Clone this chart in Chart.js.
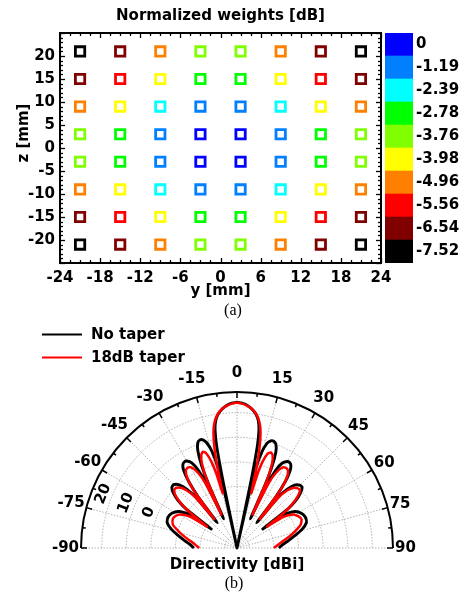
<!DOCTYPE html>
<html><head><meta charset="utf-8">
<script src="https://cdn.jsdelivr.net/npm/chart.js@4/dist/chart.umd.min.js"></script>
<style>
html,body{margin:0;padding:0;background:#fff;}
body{width:461px;height:597px;position:relative;overflow:hidden;}
canvas{position:absolute;}
#c1{left:0;top:0;}
#c2{left:383px;top:0;}
#c3{left:0;top:300px;}
</style></head><body>
<canvas id="c1" width="461" height="330"></canvas>
<canvas id="c3" width="461" height="297"></canvas>
<canvas id="c2" width="78" height="330"></canvas>
<script>
// ---------- (a) element weights ----------
const elemY = [-21,-15,-9,-3,3,9,15,21];
const elemZ = [21,15,9,3,-3,-9,-15,-21];
const weightRows = [
  [-7.52,-6.54,-4.96,-3.76,-3.76,-4.96,-6.54,-7.52],
  [-6.54,-5.56,-3.98,-2.78,-2.78,-3.98,-5.56,-6.54],
  [-4.96,-3.98,-2.39,-1.19,-1.19,-2.39,-3.98,-4.96],
  [-3.76,-2.78,-1.19,0,0,-1.19,-2.78,-3.76],
  [-3.76,-2.78,-1.19,0,0,-1.19,-2.78,-3.76],
  [-4.96,-3.98,-2.39,-1.19,-1.19,-2.39,-3.98,-4.96],
  [-6.54,-5.56,-3.98,-2.78,-2.78,-3.98,-5.56,-6.54],
  [-7.52,-6.54,-4.96,-3.76,-3.76,-4.96,-6.54,-7.52]
];
const levels = [0,-1.19,-2.39,-2.78,-3.76,-3.98,-4.96,-5.56,-6.54,-7.52];
const levelColors = ['#0000ff','#0080ff','#00ffff','#00ff00','#80ff00','#ffff00','#ff8000','#ff0000','#800000','#000000'];
const yTicksMm = [-24,-18,-12,-6,0,6,12,18,24];
const zTicksMm = [-20,-15,-10,-5,0,5,10,15,20];

// ---------- (b) directivity patterns ----------
const seriesLabels = ['No taper','18dB taper'];
const noTaperAngles = [-90,-86,-82,-78,-74,-70,-66,-62,-58,-55,-53.5,-52.5,-51,-49,-47,-45,-42.5,-40.5,-39,-38,-37.2,-36,-34.5,-33,-31.5,-30,-28,-26.5,-25.3,-24.6,-24,-23.2,-22,-20.5,-19,-17.5,-16,-14.5,-13.3,-12.6,-12.3,-11.8,-11.3,-10.5,-9.5,-8,-6,-4,-2,0,2,4,6,8,9.5,10.5,11.3,11.8,12.3,12.6,13.3,14.5,16,17.5,19,20.5,22,23.2,24,24.6,25.3,26.5,28,30,31.5,33,34.5,36,37.2,38,39,40.5,42.5,45,47,49,51,52.5,53.5,55,58,62,66,70,74,78,82,86,90];
const noTaperDb = [-17.5,-16,-13.5,-10.5,-7.2,-4.8,-4.3,-5,-7,-11,-22,-9,-4,-0.6,1.2,1.4,-0.2,-3.5,-9,-22,-9,-1.5,3.3,5.4,6.0,5.8,4.2,0.5,-7,-22,-7,1.5,7.4,10.6,11.4,11.1,9.4,5.5,-1.5,-11,-35,-8,7,14,17.5,20,21.9,23.2,23.9,24.2,23.9,23.2,21.9,20,17.5,14,7,-8,-35,-11,-1.5,5.3,9.2,10.7,10.9,10.1,7.2,1.3,-7,-22,-7,0.4,4,5.6,5.8,5.2,3.1,-1.5,-9,-22,-9,-3.7,-0.3,1.1,1.2,-0.8,-4.2,-9,-22,-11,-7,-5.2,-4.5,-5,-7.5,-11,-14,-16.5,-18];
const taperAngles = [-90,-86,-82,-78,-74,-70,-66,-62.5,-59,-56,-54.5,-53,-51.5,-49.5,-47.5,-45.5,-43,-41,-39.5,-38,-37,-35.5,-33.5,-31.5,-29.5,-27.5,-26,-24.8,-23.8,-22.5,-21,-19.5,-18,-16.5,-15.5,-14.6,-13.8,-12.8,-11.5,-10,-8,-6,-4,-2,0,2,4,6,8,10,11.5,12.8,13.8,14.6,15.5,16.5,18,19.5,21,22.5,23.8,24.8,26,27.5,29.5,31.5,33.5,35.5,37,38,39.5,41,43,45.5,47.5,49.5,51.5,53,54.5,56,59,62.5,66,70,74,78,82,86,90];
const taperDb = [-19.6,-18.2,-16.2,-13.3,-10.3,-7.3,-6.4,-6.8,-8.5,-12.5,-20,-11,-6,-2.2,-0.4,-0.2,-1.5,-4,-8,-20,-6.5,-0.3,2.7,3.3,2.7,-0.3,-5.5,-20,-4.5,2.3,5.5,6.5,5.5,1.5,-4,-12,-3,6,13,17.2,20.2,21.9,23.0,23.7,24.0,23.7,23.0,21.9,20.2,17.2,13,6,-3,-12,-4,1.5,5.3,6.2,5.4,2.3,-4.5,-20,-5.5,-0.3,2.6,3.2,2.6,-0.3,-6.5,-20,-8,-4.2,-1.7,-0.4,-0.3,-2.4,-6.2,-11,-20,-12.5,-8.5,-7,-6.3,-7.5,-10.5,-13.5,-16.5,-18.5,-20];
const polarMin = -35, polarMax = 28.4;
const ringValues = [-30,-20,-10,0,10,20];
const ringLabelValues = [0,10,20];
const angleTicks = [-90,-75,-60,-45,-30,-15,0,15,30,45,60,75,90];

Chart.defaults.font.family = "'DejaVu Sans', sans-serif";
Chart.defaults.font.weight = 'bold';
Chart.defaults.font.size = 15;
Chart.defaults.color = '#000';

const BOLD = "bold 15px 'DejaVu Sans', sans-serif";
const SERIF = "16px 'Liberation Serif', 'Times New Roman', serif";

// ---------- chart (a) ----------
const pts = [], ptColors = [];
weightRows.forEach((row, i) => row.forEach((w, j) => {
  pts.push({x: elemY[j], y: elemZ[i]});
  ptColors.push(levelColors[levels.indexOf(w)]);
}));

const frameA = {
  id: 'frameA',
  afterDraw(chart) {
    const {ctx, chartArea: ca, scales: {x, y}} = chart;
    ctx.save();
    ctx.strokeStyle = '#000';
    ctx.lineWidth = 1.3;
    for (let v = x.min; v <= x.max + 1e-9; v += 1.5) {
      const p = Math.round(x.getPixelForValue(v)) + 0.5;
      const len = (Math.abs(v % 6) < 1e-9) ? 5 : 3;
      ctx.beginPath(); ctx.moveTo(p, ca.bottom); ctx.lineTo(p, ca.bottom - len); ctx.stroke();
      ctx.beginPath(); ctx.moveTo(p, ca.top); ctx.lineTo(p, ca.top + len); ctx.stroke();
    }
    for (let v = y.min; v <= y.max + 1e-9; v += 1) {
      const p = Math.round(y.getPixelForValue(v)) + 0.5;
      const len = (Math.abs(v % 5) < 1e-9) ? 5 : 3;
      ctx.beginPath(); ctx.moveTo(ca.left, p); ctx.lineTo(ca.left + len, p); ctx.stroke();
      ctx.beginPath(); ctx.moveTo(ca.right, p); ctx.lineTo(ca.right - len, p); ctx.stroke();
    }
    ctx.lineWidth = 2;
    ctx.strokeRect(ca.left, ca.top, ca.right - ca.left, ca.bottom - ca.top);
    ctx.fillStyle = '#000';
    ctx.font = BOLD;
    ctx.textAlign = 'center'; ctx.textBaseline = 'middle';
    ctx.fillText('Normalized weights [dB]', (ca.left + ca.right) / 2, 16);
    ctx.fillText('y [mm]', (ca.left + ca.right) / 2, 291);
    ctx.save();
    ctx.translate(24, 133); ctx.rotate(-Math.PI / 2);
    ctx.fillText('z [mm]', 0, 0);
    ctx.restore();
    ctx.font = SERIF;
    ctx.fillText('(a)', 233, 311);
    ctx.restore();
  }
};

new Chart(document.getElementById('c1'), {
  type: 'scatter',
  data: {datasets: [{
    data: pts,
    pointStyle: 'rect',
    pointRadius: 6.6,
    pointBorderWidth: 2.8,
    pointBorderColor: ptColors,
    pointBackgroundColor: 'rgba(0,0,0,0)'
  }]},
  options: {
    responsive: false, animation: false,
    layout: {padding: {top: 33, right: 80, left: 0, bottom: 0}},
    plugins: {legend: {display: false}, tooltip: {enabled: false}},
    scales: {
      x: {type: 'linear', min: -24, max: 24,
          afterBuildTicks: s => { s.ticks = yTicksMm.map(v => ({value: v})); },
          afterFit: s => { s.height = 67; },
          grid: {display: false, drawTicks: false}, border: {display: false},
          ticks: {padding: 6, maxRotation: 0, autoSkip: false, color: '#000'}},
      y: {type: 'linear', min: -25, max: 25,
          afterBuildTicks: s => { s.ticks = zTicksMm.map(v => ({value: v})); },
          afterFit: s => { s.width = 60; },
          grid: {display: false, drawTicks: false}, border: {display: false},
          ticks: {padding: 5, autoSkip: false, color: '#000'}}
    }
  },
  plugins: [frameA]
});

// ---------- colour bar ----------
new Chart(document.getElementById('c2'), {
  type: 'bar',
  data: {labels: levels.map(String), datasets: [{
    data: levels.map(() => 1),
    backgroundColor: levelColors,
    borderWidth: 0,
    barPercentage: 1, categoryPercentage: 1
  }]},
  options: {
    indexAxis: 'y', responsive: false, animation: false,
    layout: {padding: {left: 2, top: 33, bottom: 67, right: 0}},
    plugins: {legend: {display: false}, tooltip: {enabled: false}},
    scales: {
      x: {display: false, min: 0, max: 1},
      y: {position: 'right', grid: {display: false, drawTicks: false}, border: {display: false},
          afterFit: s => { s.width = 48; },
          ticks: {padding: 3, color: '#000'}}
    }
  }
});

// ---------- chart (b) polar ----------
function toXY(angles, db) {
  return angles.map((a, i) => {
    const r = Math.max(db[i] - polarMin, 0);
    const t = a * Math.PI / 180;
    return {x: r * Math.sin(t), y: r * Math.cos(t)};
  });
}
const RSPAN = polarMax - polarMin;

const polarGrid = {
  id: 'polarGrid',
  beforeDatasetsDraw(chart) {
    const {ctx, scales: {x, y}} = chart;
    const cx = x.getPixelForValue(0), cy = y.getPixelForValue(0);
    const rad = v => x.getPixelForValue(v - polarMin) - cx;
    const R = rad(polarMax);
    ctx.save();
    ctx.strokeStyle = '#a0a0a0'; ctx.lineWidth = 0.8; ctx.setLineDash([1.5, 1.5]);
    ringValues.forEach(v => { ctx.beginPath(); ctx.arc(cx, cy, rad(v), Math.PI, 2 * Math.PI); ctx.stroke(); });
    angleTicks.forEach(a => {
      const t = a * Math.PI / 180;
      ctx.beginPath(); ctx.moveTo(cx, cy); ctx.lineTo(cx + R * Math.sin(t), cy - R * Math.cos(t)); ctx.stroke();
    });
    ctx.restore();
  },
  afterDraw(chart) {
    const {ctx, scales: {x, y}} = chart;
    const cx = x.getPixelForValue(0), cy = y.getPixelForValue(0);
    const rad = v => x.getPixelForValue(v - polarMin) - cx;
    const R = rad(polarMax);
    ctx.save();
    ctx.strokeStyle = '#000'; ctx.lineWidth = 2;
    ctx.beginPath(); ctx.arc(cx, cy, R, Math.PI, 2 * Math.PI); ctx.stroke();
    ctx.lineWidth = 1.5;
    for (let a = -90; a <= 90; a += 7.5) {
      const t = a * Math.PI / 180, len = (a % 15 === 0) ? 6 : 3.5;
      ctx.beginPath();
      ctx.moveTo(cx + R * Math.sin(t), cy - R * Math.cos(t));
      ctx.lineTo(cx + (R - len) * Math.sin(t), cy - (R - len) * Math.cos(t));
      ctx.stroke();
    }
    ctx.fillStyle = '#000'; ctx.font = BOLD;
    ctx.textAlign = 'center'; ctx.textBaseline = 'middle';
    angleTicks.forEach(a => {
      const t = a * Math.PI / 180, txt = String(a);
      const w = ctx.measureText(txt).width;
      const off = 2 + 17 * Math.cos(t) ** 2 + (w / 2) * Math.sin(t) ** 2;
      ctx.fillText(txt, cx + (R + off) * Math.sin(t), cy - (R + off) * Math.cos(t));
    });
    const la = -68 * Math.PI / 180;
    ctx.font = BOLD;
    ringLabelValues.forEach(v => {
      const r = rad(v) + 9;
      ctx.save();
      ctx.translate(cx + r * Math.sin(la), cy - r * Math.cos(la));
      ctx.rotate(la);
      ctx.fillText(String(v), 0, 0);
      ctx.restore();
    });
    ctx.fillText('Directivity [dBi]', cx, 265);
    ctx.font = SERIF;
    ctx.fillText('(b)', 234, 284);
    // legend
    ctx.font = BOLD; ctx.textAlign = 'left';
    chart.data.datasets.slice().sort((p, q) => p.legendIndex - q.legendIndex).forEach((ds, i) => {
      const ly = 34.5 + i * 23;
      ctx.strokeStyle = ds.borderColor; ctx.lineWidth = 1.8;
      ctx.beginPath(); ctx.moveTo(42, ly); ctx.lineTo(82, ly); ctx.stroke();
      ctx.fillText(ds.label, 91, ly + 1);
    });
    ctx.restore();
  }
};

new Chart(document.getElementById('c3'), {
  type: 'scatter',
  data: {datasets: [
    {label: seriesLabels[1], legendIndex: 1, data: toXY(taperAngles, taperDb), showLine: true,
     borderColor: '#ff0000', borderWidth: 2.5, pointRadius: 0, tension: 0.2, clip: false, order: 1},
    {label: seriesLabels[0], legendIndex: 0, data: toXY(noTaperAngles, noTaperDb), showLine: true,
     borderColor: '#000000', borderWidth: 2.9, pointRadius: 0, tension: 0.2, clip: false, order: 2}
  ]},
  options: {
    responsive: false, animation: false,
    layout: {padding: {left: 81, right: 68, top: 92, bottom: 49}},
    plugins: {legend: {display: false}, tooltip: {enabled: false}},
    scales: {
      x: {type: 'linear', display: false, min: -RSPAN, max: RSPAN},
      y: {type: 'linear', display: false, min: 0, max: RSPAN}
    }
  },
  plugins: [polarGrid]
});
</script>
</body></html>
